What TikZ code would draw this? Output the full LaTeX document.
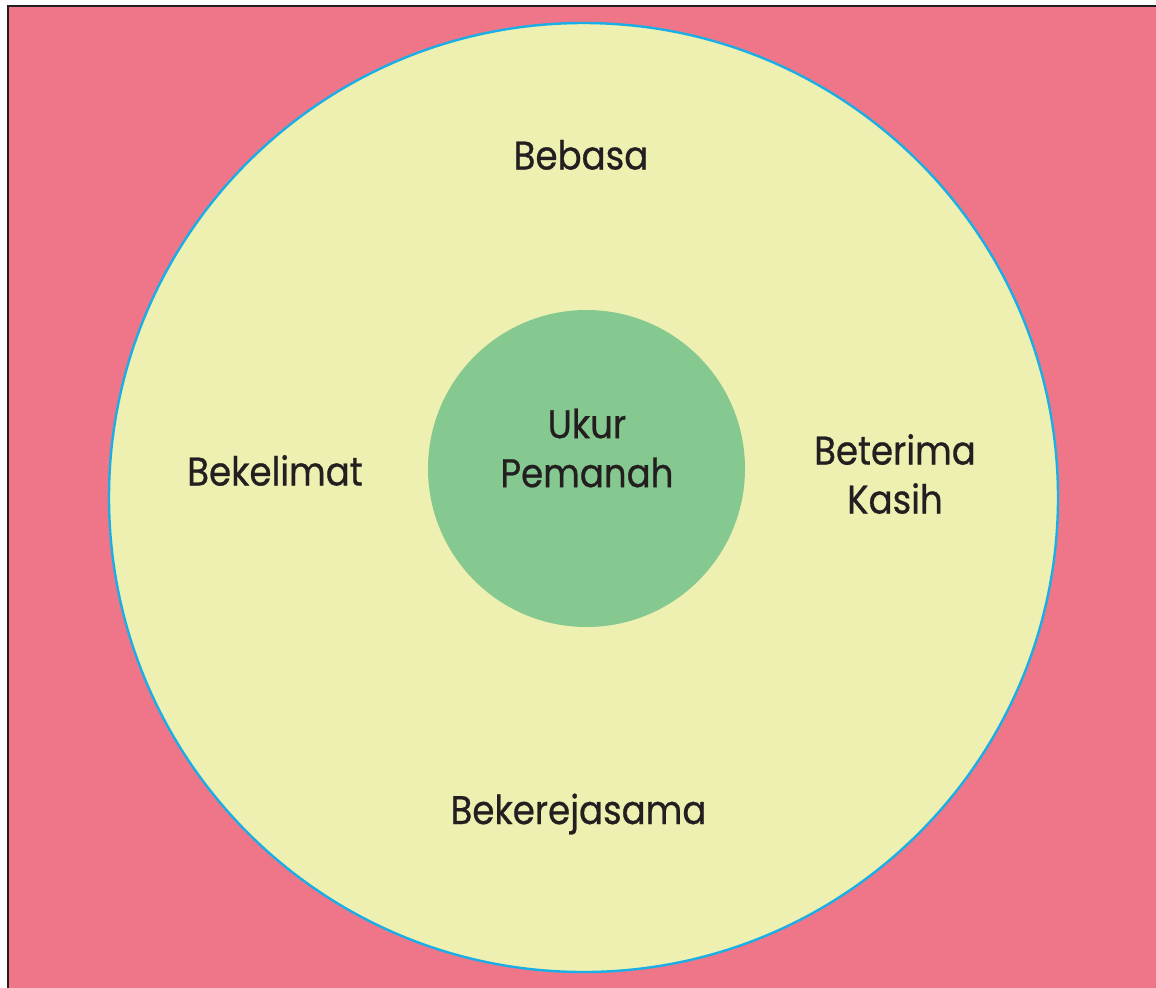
\documentclass[tikz,border=0pt]{standalone}
\usepackage{fontspec}
\setmainfont{Poppins}[FakeStretch=0.89,FakeBold=0.6]
\usepackage{tikz}
\usetikzlibrary{positioning}
\definecolor{pinkbg}{HTML}{EF7689}
\definecolor{paleyellow}{HTML}{EDF0B1}
\definecolor{leafgreen}{HTML}{86C990}
\definecolor{skyline}{HTML}{1AAEE6}
\definecolor{inkdark}{HTML}{231F20}

\begin{document}
\begin{tikzpicture}[x=0.5pt,y=-0.5pt,
    outer/.style={circle,fill=paleyellow,draw=skyline,line width=1.2pt,inner sep=0pt,minimum size=474.5pt},
    inner/.style={circle,fill=leafgreen,inner sep=0pt,minimum size=158.5pt},
    word/.style={text=inkdark,font=\fontsize{20}{24.5}\selectfont,align=center,inner sep=0pt}]
  \useasboundingbox (0,0) rectangle (1156,987);
  \clip (0,0) rectangle (1156,987);
  \fill[white] (0,0) rectangle (1156,987);
  \draw[fill=pinkbg,draw=inkdark,line width=1.3pt] (8,6) rectangle (1180,1010);

  \node[outer] (ring) at (583.5,497.5) {};
  \node[inner] (core) at (586.5,468.5) {};

  \node[word]         (centre) at (587,448)  {Ukur\\Pemanah};
  \node[word,anchor=base] (top)  at (581,169.5) {Bebasa};
  \node[word,anchor=base] (left) at (275,485.5) {Bekelimat};
  \node[word]         (right)  at (895,474)  {Beterima\\Kasih};
  \node[word,anchor=base] (bottom) at (578.5,824) {Bekerejasama};
\end{tikzpicture}
\end{document}
